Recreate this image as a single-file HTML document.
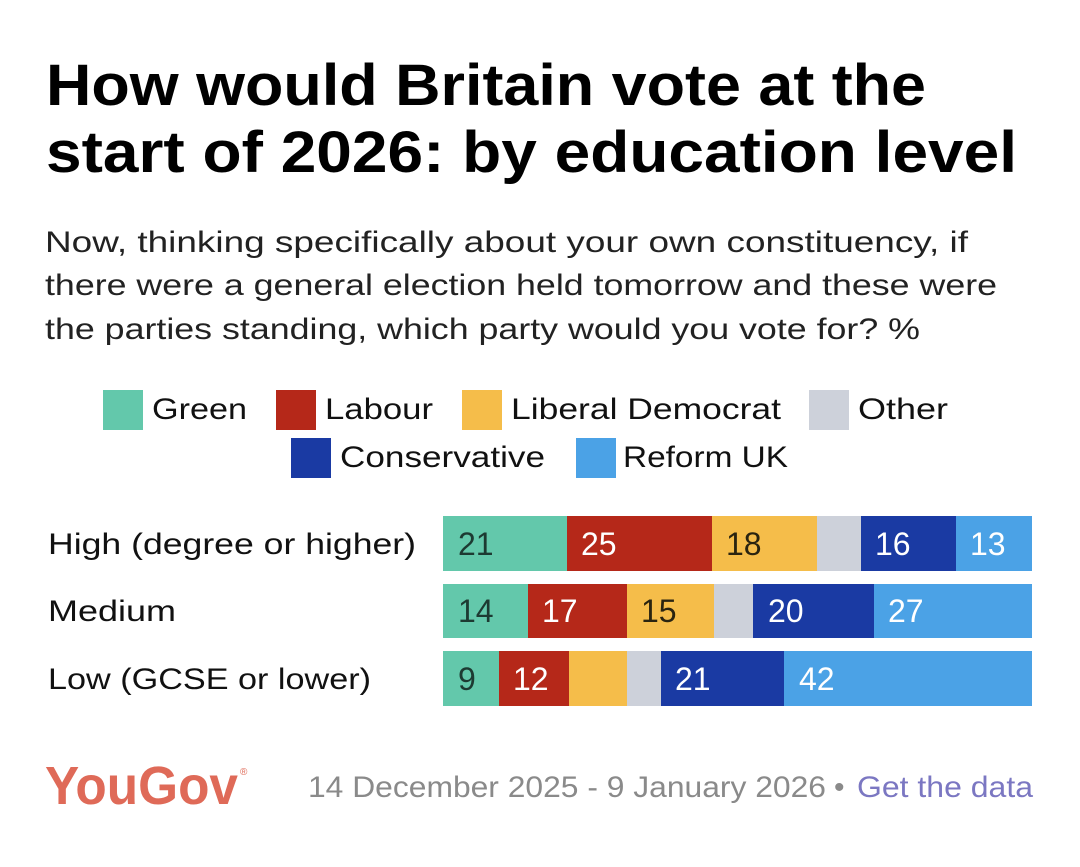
<!DOCTYPE html>
<html><head><meta charset="utf-8"><style>
html,body{margin:0;padding:0;background:#fff;}
svg{display:block;}
text{font-family:"Liberation Sans",sans-serif;}
</style></head><body>
<svg width="1080" height="867" viewBox="0 0 1080 867" xmlns="http://www.w3.org/2000/svg">
<rect width="1080" height="867" fill="#fff"/>
<text x="46" y="105" font-size="58" font-weight="bold" fill="#000" textLength="880" lengthAdjust="spacingAndGlyphs">How would Britain vote at the</text>
<text x="46" y="172" font-size="58" font-weight="bold" fill="#000" textLength="971" lengthAdjust="spacingAndGlyphs">start of 2026: by education level</text>
<g font-size="30" fill="#222">
<text x="45" y="252" textLength="923" lengthAdjust="spacingAndGlyphs">Now, thinking specifically about your own constituency, if</text>
<text x="45" y="295" textLength="952" lengthAdjust="spacingAndGlyphs">there were a general election held tomorrow and these were</text>
<text x="45" y="339" textLength="875" lengthAdjust="spacingAndGlyphs">the parties standing, which party would you vote for? %</text>
</g>
<g font-size="30" fill="#111">
<rect x="103" y="390" width="40" height="40" fill="#63c8ab"/><text x="152" y="419" textLength="95" lengthAdjust="spacingAndGlyphs">Green</text>
<rect x="276" y="390" width="40" height="40" fill="#b52819"/><text x="325" y="419" textLength="108" lengthAdjust="spacingAndGlyphs">Labour</text>
<rect x="462" y="390" width="40" height="40" fill="#f5bd4a"/><text x="511" y="419" textLength="270" lengthAdjust="spacingAndGlyphs">Liberal Democrat</text>
<rect x="809" y="390" width="40" height="40" fill="#cdd1da"/><text x="858" y="419" textLength="90" lengthAdjust="spacingAndGlyphs">Other</text>
<rect x="291" y="438" width="40" height="40" fill="#1a3aa3"/><text x="340" y="467" textLength="205" lengthAdjust="spacingAndGlyphs">Conservative</text>
<rect x="576" y="438" width="40" height="40" fill="#4ba2e6"/><text x="623" y="467" textLength="165" lengthAdjust="spacingAndGlyphs">Reform UK</text>
</g>
<g font-size="30" fill="#111">
<text x="48" y="554" textLength="368" lengthAdjust="spacingAndGlyphs">High (degree or higher)</text>
<text x="48" y="621" textLength="128" lengthAdjust="spacingAndGlyphs">Medium</text>
<text x="48" y="689" textLength="323" lengthAdjust="spacingAndGlyphs">Low (GCSE or lower)</text>
</g>
<rect x="443" y="516" width="124" height="55" fill="#63c8ab"/>
<rect x="567" y="516" width="145" height="55" fill="#b52819"/>
<rect x="712" y="516" width="105" height="55" fill="#f5bd4a"/>
<rect x="817" y="516" width="44" height="55" fill="#cdd1da"/>
<rect x="861" y="516" width="95" height="55" fill="#1a3aa3"/>
<rect x="956" y="516" width="76" height="55" fill="#4ba2e6"/>
<rect x="443" y="584" width="85" height="54" fill="#63c8ab"/>
<rect x="528" y="584" width="99" height="54" fill="#b52819"/>
<rect x="627" y="584" width="87" height="54" fill="#f5bd4a"/>
<rect x="714" y="584" width="39" height="54" fill="#cdd1da"/>
<rect x="753" y="584" width="121" height="54" fill="#1a3aa3"/>
<rect x="874" y="584" width="158" height="54" fill="#4ba2e6"/>
<rect x="443" y="651" width="56" height="55" fill="#63c8ab"/>
<rect x="499" y="651" width="70" height="55" fill="#b52819"/>
<rect x="569" y="651" width="58" height="55" fill="#f5bd4a"/>
<rect x="627" y="651" width="34" height="55" fill="#cdd1da"/>
<rect x="661" y="651" width="123" height="55" fill="#1a3aa3"/>
<rect x="784" y="651" width="248" height="55" fill="#4ba2e6"/>
<g font-size="32">
<text x="458" y="555" fill="#1d3a32">21</text>
<text x="581" y="555" fill="#fff">25</text>
<text x="726" y="555" fill="#2a2410">18</text>
<text x="875" y="555" fill="#fff">16</text>
<text x="970" y="555" fill="#fff">13</text>
<text x="458" y="622" fill="#1d3a32">14</text>
<text x="542" y="622" fill="#fff">17</text>
<text x="641" y="622" fill="#2a2410">15</text>
<text x="768" y="622" fill="#fff">20</text>
<text x="888" y="622" fill="#fff">27</text>
<text x="458" y="690" fill="#1d3a32">9</text>
<text x="513" y="690" fill="#fff">12</text>
<text x="675" y="690" fill="#fff">21</text>
<text x="799" y="690" fill="#fff">42</text>
</g>
<text x="45" y="804" font-size="54" font-weight="bold" fill="#df6a58" textLength="193" lengthAdjust="spacingAndGlyphs">YouGov</text>
<text x="240" y="775" font-size="10" fill="#df6a58">®</text>
<text x="308" y="797" font-size="30" fill="#8a8a8a" textLength="518" lengthAdjust="spacingAndGlyphs">14 December 2025 - 9 January 2026</text>
<text x="834" y="797" font-size="30" fill="#8a8a8a">•</text>
<text x="857" y="797" font-size="30" fill="#7b77c2" textLength="176" lengthAdjust="spacingAndGlyphs">Get the data</text>
</svg>
</body></html>
